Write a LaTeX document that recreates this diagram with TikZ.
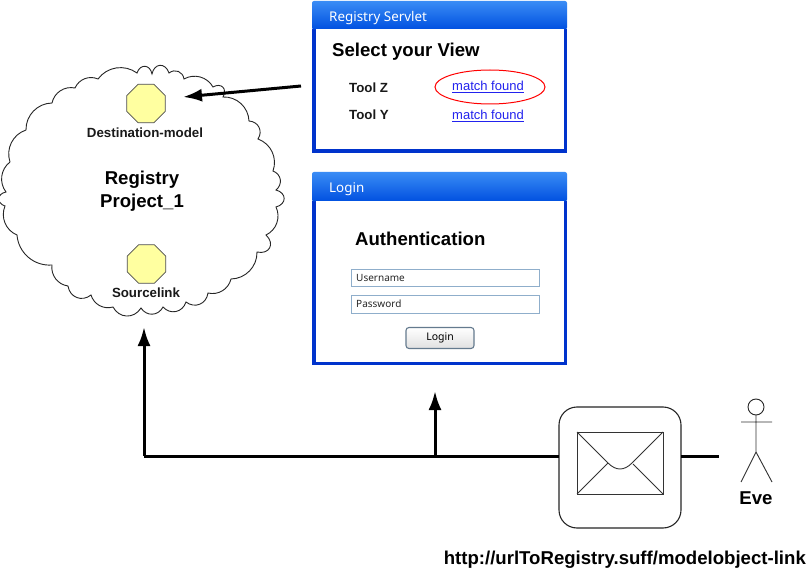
\documentclass[tikz,border=0pt]{standalone}
\usepackage{fontspec}
\setmainfont{Liberation Sans}
\newfontfamily\uifont{Noto Sans}
\usetikzlibrary{arrows.meta,shapes.geometric}
\definecolor{winblue}{HTML}{0033CC}
\definecolor{titletop}{HTML}{3A8CF5}
\definecolor{titlebot}{HTML}{0050E0}
\definecolor{fieldline}{HTML}{8FAECB}
\definecolor{linkblue}{HTML}{2222EE}
\definecolor{octfill}{HTML}{FFFFA0}
\tikzset{
  x=1pt,y=-1pt,
  bump/.style={bend left=45},
  smallbump/.style={bend left=75,looseness=1.7},
  midbump/.style={bend left=60,looseness=1.2},
  oct/.style={regular polygon,regular polygon sides=8,draw=black!70,line width=.8pt,fill=octfill,minimum size=41.5pt,inner sep=0pt},
  boldlabel/.style={font=\bfseries\fontsize{13.3}{15}\selectfont,inner sep=0pt,text=black!90},
  bigbold/.style={font=\bfseries\fontsize{18.6}{22}\selectfont,inner sep=0pt,text=black},
  wintitle/.style={font=\uifont\fontsize{13.4}{15}\selectfont,text=white,inner sep=0pt,anchor=base west},
  winlink/.style={font=\fontsize{13}{15}\selectfont,text=linkblue,inner sep=0pt},
  field/.style={draw=fieldline,line width=1pt,fill=white,minimum width=188pt,minimum height=17.5pt,inner sep=0pt,outer sep=0pt,anchor=north west},
  fieldtext/.style={font=\uifont\fontsize{10}{12}\selectfont,inner sep=0pt,anchor=base west,text=black!85},
  wire/.style={line width=3pt,black},
  wirehead/.style={line width=3pt,black,-{Latex[length=19pt,width=13pt]}},
  thin line/.style={line width=.9pt,black!80},
}
\newcommand{\winframe}[3]{% top, titlebottom, bottom
  \path[fill=winblue] (312,#2) rectangle (567,#3);
  \path[top color=titletop,bottom color=titlebot,rounded corners=2pt] (312,#2+.5) -- (312,#1) -- (567,#1) -- (567,#2+.5) -- cycle;
  \path[fill=white] (316,#2) rectangle (564,#3-3.5);
}
\begin{document}
\begin{tikzpicture}
\useasboundingbox (0,0) rectangle (811,569);
\path[fill=white] (0,0) rectangle (811,569);

% cloud
\draw[line width=.9pt,black!85]
  (10,162) to[bump] (26,130) to[bump] (52,103) to[bump] (75,88) to[bump] (98,79)
  to[bump] (137,73) to[smallbump] (152,74) to[smallbump] (169,73) to[midbump] (184,79)
  to[bump] (213,87) to[smallbump] (223,97) to[bump] (249,121) to[midbump] (258,139)
  to[bump] (273,171) to[midbump] (276,190) to[smallbump] (276,207) to[bump] (266,235)
  to[smallbump] (257,252) to[bump] (231,279) to[bump] (208,293) to[midbump] (186,302)
  to[midbump] (163,307) to[midbump] (141,308) to[midbump] (113,307) to[bump] (91,295)
  to[midbump] (68,286) to[bump] (52,265) to[bump] (17,235) to[bump] (5,206)
  to[smallbump] (6,192) to[bump] (10,162);

\node[oct] (dest) at (146,103.5) {};
\node[oct] (src) at (146.5,264) {};
\node[boldlabel] (destlabel) at (145,133) {Destination-model};
\node[boldlabel] (srclabel) at (146,293) {Sourcelink};
\node[bigbold] (reg1) at (142,180) {Registry};
\node[bigbold] (reg2) at (142,203) {Project\_1};

% registry window
\winframe{1}{29}{153}
\node[wintitle] (t1) at (329,22) {Registry Servlet};
\node[bigbold,anchor=base west] (sel) at (332,57) {Select your View};
\node[boldlabel,anchor=base west] (toolz) at (349,93) {Tool Z};
\node[boldlabel,anchor=base west] (tooly) at (349,120) {Tool Y};
\node[draw=red,line width=1pt,ellipse,minimum width=110pt,minimum height=34pt,inner sep=0pt] (circ) at (490,87) {};
\node[winlink] (m1) at (488,87) {\underline{match found}};
\node[winlink] (m2) at (488,116) {\underline{match found}};

% login window
\winframe{172}{201}{365}
\node[wintitle] (t2) at (329,193) {Login};
\node[bigbold,anchor=base west] (auth) at (355,246) {Authentication};
\node[field] (user) at (351.5,269.5) {};
\node[field] (pass) at (351.5,296) {};
\node[fieldtext] (usert) at (356,281.5) {Username};
\node[fieldtext] (passt) at (356,308) {Password};
\node[draw=fieldline!70!black,line width=1.1pt,rounded corners=3pt,top color=white,bottom color=black!12,minimum width=68pt,minimum height=21pt,inner sep=0pt,outer sep=0pt,font=\uifont\fontsize{10.5}{12}\selectfont] (btn) at (440,338) {Login};

% mail
\node[draw=black!85,line width=1.1pt,rounded corners=18pt,fill=white,minimum width=122pt,minimum height=121pt,inner sep=0pt,outer sep=0pt] (mail) at (620,467.5) {};
\draw[thin line] (577,432) rectangle (663,494);
\draw[thin line] (577,432) -- (608,463) .. controls (616,471) and (624,471) .. (632,463) -- (663,432);
\draw[thin line] (577,494) -- (608,463);
\draw[thin line] (663,494) -- (633,464);

% actor
\node[draw=black!85,circle,line width=.9pt,minimum size=16pt,inner sep=0pt,outer sep=0pt] (head) at (756,407) {};
\coordinate (hip) at (756,452);
\coordinate (armL) at (741,422);
\coordinate (armR) at (772,422);
\coordinate (legL) at (741,482);
\coordinate (legR) at (772,482);
\draw[thin line] (head.south) -- (hip) (armL) -- (armR) (legL) -- (hip) -- (legR);
\node[bigbold] (eve) at (756,498) {Eve};
\node[bigbold,anchor=base east] (url) at (806,564) {http://urlToRegistry.suff/modelobject-link};

% connectors
\coordinate (a1) at (301,86);
\coordinate (a1tip) at (183,97);
\draw[wirehead] (a1) -- (a1tip);
\coordinate (corner) at (144,456);
\coordinate (tip1) at (144,327);
\coordinate (junction) at (435,456);
\coordinate (tip2) at (435,391);
\coordinate (rightend) at (719,456);
\draw[wire] (mail.west |- corner) -- (corner);
\draw[wirehead] (corner) -- (tip1);
\draw[wirehead] (junction) -- (tip2);
\draw[wire] (mail.east |- corner) -- (rightend);
\end{tikzpicture}
\end{document}
